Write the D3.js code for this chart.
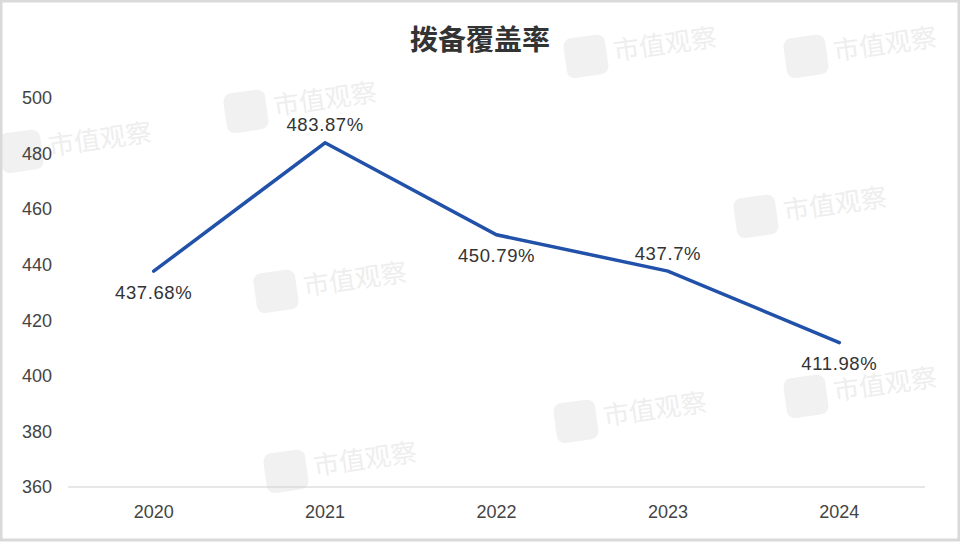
<!DOCTYPE html>
<html><head><meta charset="utf-8">
<script src="https://cdn.jsdelivr.net/npm/d3@7/dist/d3.min.js"></script>
<style>
html,body{margin:0;padding:0;background:#fff;}
svg{display:block;font-family:"Helvetica Neue",Arial,"Liberation Sans","Noto Sans CJK SC",sans-serif;}
</style></head>
<body><svg id="c" width="960" height="545"></svg>
<script>
const title = "拨备覆盖率";
const years = ["2020","2021","2022","2023","2024"];
const values = [437.68, 483.87, 450.79, 437.7, 411.98];
const valueLabels = ["437.68%","483.87%","450.79%","437.7%","411.98%"];
const labelSide = ["below","above","below","above","below"];
const yTicks = [360,380,400,420,440,460,480,500];
const watermarks = [[270,110],[610,55],[780,215],[300,290],[45,150],[600,420],[310,470],[830,395],[830,55]];

const svg = d3.select("#c");
const W = 960, H = 545;
svg.append("rect").attr("width",W).attr("height",H).attr("fill","#fff");

// watermarks
const wm = svg.append("g");
watermarks.forEach(([x,y])=>{
  const g = wm.append("g").attr("transform",`translate(${x},${y}) rotate(-8)`);
  g.append("rect").attr("x",-45).attr("y",-22).attr("width",42).attr("height",40).attr("rx",8).attr("fill","#f1f1f1");
  g.append("text").attr("x",4).attr("y",6).attr("font-size",26).attr("fill","#eeeeee").attr("font-family","Noto Sans CJK SC").text("市值观察");
});

const x = d3.scaleBand().domain(years).range([68,925]);
const y = d3.scaleLinear().domain([360,500]).range([487,98]);

// y tick labels
svg.append("g").selectAll("text").data(yTicks).join("text")
  .attr("x",22).attr("y",d=>y(d)).attr("dy","0.35em")
  .attr("font-size",18).attr("fill","#444").text(d=>d);

// x axis line
svg.append("line").attr("x1",68).attr("x2",925).attr("y1",y(360)).attr("y2",y(360))
  .attr("stroke","#cfcfcf").attr("stroke-width",1);

svg.append("g").selectAll("text").data(years).join("text")
  .attr("x",d=>x(d)+x.bandwidth()/2).attr("y",512).attr("dy","0.35em")
  .attr("text-anchor","middle").attr("font-size",18).attr("fill","#444").text(d=>d);

const line = d3.line().x((d,i)=>x(years[i])+x.bandwidth()/2).y(d=>y(d));
svg.append("path").datum(values).attr("d",line).attr("fill","none")
  .attr("stroke","#2151a8").attr("stroke-width",3.5).attr("stroke-linecap","round").attr("stroke-linejoin","miter");

svg.append("g").selectAll("text").data(values).join("text")
  .attr("x",(d,i)=>x(years[i])+x.bandwidth()/2)
  .attr("y",(d,i)=>y(d)+(labelSide[i]==="above"?-18:21)).attr("dy","0.35em")
  .attr("text-anchor","middle").attr("font-size",18.5).attr("letter-spacing",0.6).attr("fill","#333")
  .text((d,i)=>valueLabels[i]);

svg.append("text").attr("x",480).attr("y",40).attr("dy","0.35em").attr("text-anchor","middle")
  .attr("font-size",28).attr("font-weight","bold").attr("fill","#333")
  .attr("font-family","Noto Sans CJK SC").text(title);

// frame
svg.append("rect").attr("x",1).attr("y",1).attr("width",W-2).attr("height",H-6)
  .attr("fill","none").attr("stroke","#d9d9d9").attr("stroke-width",3);
</script></body></html>
